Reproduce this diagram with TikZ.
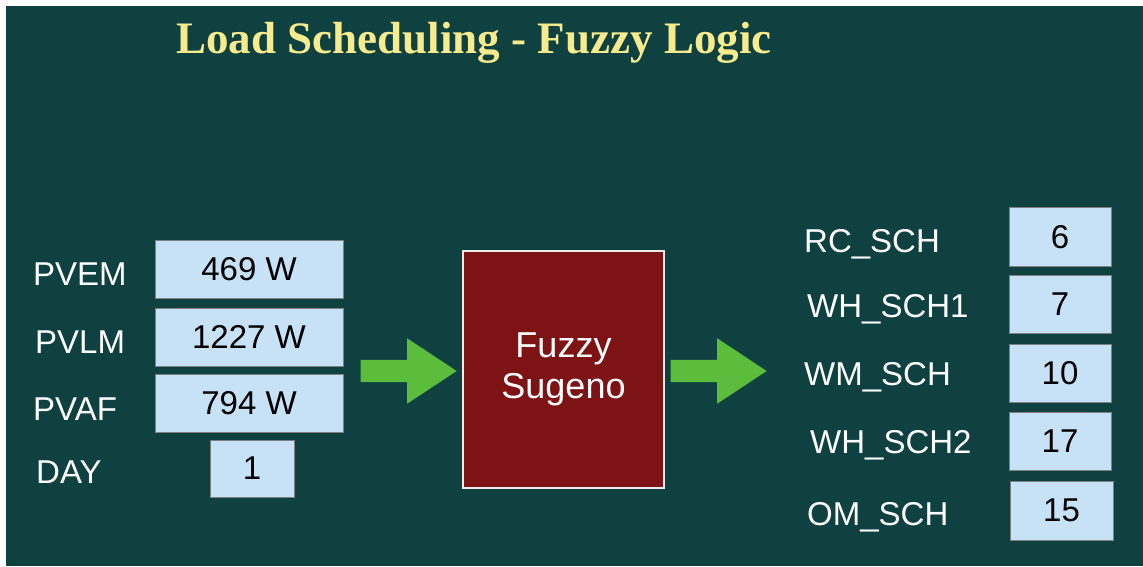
\documentclass[tikz,border=0pt]{standalone}
\usepackage{fontspec}
\setmainfont{Liberation Serif}
\setsansfont{Liberation Sans}
\usepackage{xcolor}
\usetikzlibrary{shapes.arrows}

\definecolor{slidebg}{HTML}{0F4141}
\definecolor{valblue}{HTML}{C7E1F6}
\definecolor{fuzzred}{HTML}{7E1316}
\definecolor{arrowgreen}{HTML}{5CBC3B}
\definecolor{titleyellow}{HTML}{F7EB8E}

\tikzset{
  lbl/.style={text=white, anchor=base west, inner sep=0pt,
    font=\sffamily\fontsize{33}{33}\selectfont},
  valbox/.style={fill=valblue, draw=black!50, line width=0.6pt, inner sep=0pt,
    font=\sffamily\fontsize{33}{33}\selectfont, minimum height=58pt},
  bigarrow/.style={single arrow, fill=arrowgreen, inner sep=0pt, anchor=tip,
    text height=11pt, text depth=11pt,
    minimum height=96pt, minimum width=65pt,
    single arrow head extend=21.5pt, single arrow tip angle=67}
}

\begin{document}
\begin{tikzpicture}[x=1pt, y=-1pt]
  \useasboundingbox (0,0) rectangle (1143,566);
  \fill[white] (0,0) rectangle (1143,566);
  \fill[slidebg] (6,6) rectangle (1143,566);

  % Title
  \node[anchor=base, text=titleyellow, inner sep=0pt,
    font=\bfseries\fontsize{45}{45}\selectfont] (title) at (474,53)
    {Load Scheduling - Fuzzy Logic};

  % Inputs
  \node[lbl] (pvem) at (33,285) {PVEM};
  \node[lbl] (pvlm) at (35,353) {PVLM};
  \node[lbl] (pvaf) at (33,420) {PVAF};
  \node[lbl] (day) at (36,483) {DAY};
  \node[valbox, minimum width=188pt] (pvemval) at (249,269) {469 W};
  \node[valbox, minimum width=188pt] (pvlmval) at (249,337) {1227 W};
  \node[valbox, minimum width=188pt] (pvafval) at (249,403) {794 W};
  \node[valbox, minimum width=84pt, minimum height=57pt] (dayval) at (252,468.5) {1};

  % Fuzzy block
  \node[fill=fuzzred, draw=white!85!gray, line width=1.5pt,
    minimum width=201pt, minimum height=237pt, align=center, text=white,
    font=\sffamily\fontsize{36}{41}\selectfont] (fuzzy) at (563.5,369.5)
    {Fuzzy\\Sugeno};

  % Arrows
  \node[bigarrow] (arrowin) at (457,371) {};
  \node[bigarrow] (arrowout) at (767,371) {};

  % Outputs
  \node[lbl] (rc) at (804,252) {RC\_SCH};
  \node[lbl] (whone) at (807,317) {WH\_SCH1};
  \node[lbl] (wm) at (804,385) {WM\_SCH};
  \node[lbl] (whtwo) at (810,453) {WH\_SCH2};
  \node[lbl] (om) at (807,525) {OM\_SCH};
  \node[valbox, minimum width=102pt, minimum height=59pt] (rcval) at (1060,237) {6};
  \node[valbox, minimum width=102pt] (whoneval) at (1060,304) {7};
  \node[valbox, minimum width=102pt] (wmval) at (1060,373) {10};
  \node[valbox, minimum width=102pt] (whtwoval) at (1060,441) {17};
  \node[valbox, minimum width=103pt, minimum height=59pt] (omval) at (1061.5,510.5) {15};
\end{tikzpicture}
\end{document}
